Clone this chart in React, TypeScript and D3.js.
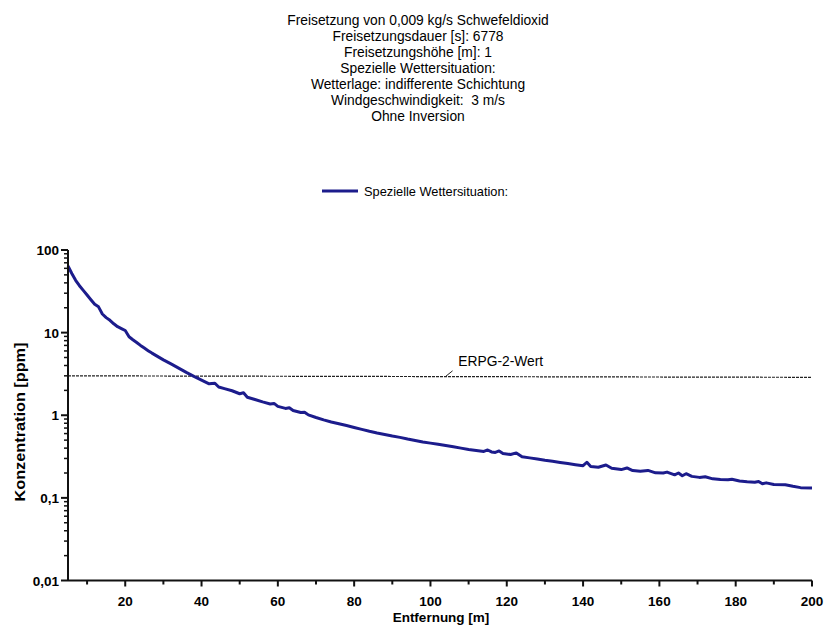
import React, { useRef, useEffect } from "react";
import * as d3 from "d3";

const titleLines = [
  "Freisetzung von 0,009 kg/s Schwefeldioxid",
  "Freisetzungsdauer [s]: 6778",
  "Freisetzungshöhe [m]: 1",
  "Spezielle Wettersituation:",
  "Wetterlage: indifferente Schichtung",
  "Windgeschwindigkeit:  3 m/s",
  "Ohne Inversion",
];

const seriesName = "Spezielle Wettersituation:";

// distance [m]
const distances = [
  5, 6, 7, 8, 9, 10, 11, 12, 13, 14, 15, 16, 17, 18, 19, 20, 21, 22, 23, 24,
  25, 26, 27, 28, 29, 30, 31, 32, 34, 36, 38, 40, 42, 43.5, 44.5, 46, 48, 50,
  51, 52, 54, 56, 58, 59, 60, 62, 63, 64, 66, 67, 68, 70, 72, 74, 76, 78, 80,
  82, 84, 86, 88, 90, 92, 94, 96, 98, 100, 102, 104, 106, 108, 110, 112, 114,
  115, 116, 117, 118, 119, 121, 122.5, 124, 126, 128, 130, 132, 134, 136, 138,
  140, 141, 142, 144, 146, 147.5, 150, 151.5, 153, 155, 157, 159, 161, 162,
  164, 165, 166, 167, 168.5, 170.5, 172, 174, 176, 178, 179, 181, 183, 185,
  186, 187, 188, 190, 193, 195, 197, 200,
];

// concentration [ppm]
const concentrations = [
  64, 52, 43, 37, 32.5, 28.5, 25, 22, 20.5, 16.8, 15.2, 14.1, 12.8, 11.8, 11.2,
  10.6, 8.9, 8.2, 7.6, 7.0, 6.5, 6.05, 5.65, 5.3, 4.98, 4.68, 4.42, 4.18, 3.72,
  3.3, 2.95, 2.66, 2.4, 2.44, 2.2, 2.1, 1.98, 1.82, 1.87, 1.65, 1.55, 1.45,
  1.37, 1.39, 1.28, 1.21, 1.23, 1.14, 1.08, 1.09, 1.01, 0.94, 0.88, 0.83,
  0.79, 0.75, 0.71, 0.675, 0.64, 0.61, 0.585, 0.56, 0.54, 0.515, 0.495, 0.475,
  0.46, 0.445, 0.43, 0.415, 0.4, 0.385, 0.375, 0.365, 0.38, 0.36, 0.355, 0.37,
  0.345, 0.335, 0.35, 0.315, 0.305, 0.295, 0.285, 0.277, 0.268, 0.26, 0.252,
  0.245, 0.27, 0.24, 0.235, 0.25, 0.228, 0.22, 0.23, 0.214, 0.21, 0.215, 0.201,
  0.2, 0.205, 0.19, 0.2, 0.185, 0.196, 0.182, 0.177, 0.18, 0.17, 0.167, 0.166,
  0.168, 0.16, 0.157, 0.155, 0.158, 0.148, 0.152, 0.145, 0.144, 0.138, 0.133,
  0.132,
];

const erpgValue = 3;
const erpgLabel = "ERPG-2-Wert";
const xTicks = [20, 40, 60, 80, 100, 120, 140, 160, 180, 200];
const xMinorTicks = [10, 30, 50, 70, 90, 110, 130, 150, 170, 190];
const yTicks = [0.01, 0.1, 1, 10, 100];
const yTickLabels = ["0,01", "0,1", "1", "10", "100"];

function App() {
  const svgRef = useRef<SVGSVGElement>(null);

  useEffect(() => {
    const svg = d3.select(svgRef.current);
    svg.selectAll("*").remove();

    const font = "'Liberation Sans', Arial, sans-serif";
    const x = d3.scaleLinear().domain([5, 200]).range([68, 812]);
    const y = d3.scaleLog().domain([0.01, 100]).range([580.5, 250]);

    // title block
    svg
      .append("g")
      .selectAll("text")
      .data(titleLines)
      .enter()
      .append("text")
      .attr("x", 418)
      .attr("y", (_, i) => 24.5 + i * 16.1)
      .attr("text-anchor", "middle")
      .style("font-family", font)
      .style("font-size", "13.8px")
      .style("white-space", "pre")
      .text((d) => d);

    // legend
    svg
      .append("line")
      .attr("x1", 322)
      .attr("x2", 358)
      .attr("y1", 191)
      .attr("y2", 191)
      .style("stroke", "#1c1c8c")
      .style("stroke-width", 3);
    svg
      .append("text")
      .attr("x", 364)
      .attr("y", 195.5)
      .style("font-family", font)
      .style("font-size", "12.8px")
      .text(seriesName);

    // ERPG line
    svg
      .append("line")
      .attr("x1", x(5))
      .attr("x2", x(200))
      .attr("y1", y(erpgValue))
      .attr("y2", y(erpgValue) + 1.5)
      .style("stroke", "#222")
      .style("stroke-width", 1.2)
      .style("stroke-dasharray", "3,1");
    svg
      .append("path")
      .attr("d", `M${x(104)},${y(erpgValue) + 0.5} L${x(105.8)},${y(erpgValue) - 5}`)
      .style("stroke", "#222")
      .style("stroke-width", 1)
      .style("fill", "none");
    svg
      .append("text")
      .attr("x", x(107.3))
      .attr("y", y(erpgValue) - 10)
      .style("font-family", font)
      .style("font-size", "13.8px")
      .text(erpgLabel);

    // data curve
    const data = distances.map((d, i) => ({ d, c: concentrations[i] }));
    const line = d3
      .line<{ d: number; c: number }>()
      .x((p) => x(p.d))
      .y((p) => y(p.c));
    svg
      .append("path")
      .datum(data)
      .attr("d", line)
      .style("fill", "none")
      .style("stroke", "#1c1c8c")
      .style("stroke-width", 3)
      .style("stroke-linejoin", "round");

    // axes
    const axisG = svg.append("g").style("stroke", "#111");
    axisG
      .append("line")
      .attr("x1", x(5))
      .attr("x2", x(200))
      .attr("y1", y(0.01))
      .attr("y2", y(0.01))
      .style("stroke-width", 2);
    axisG
      .append("line")
      .attr("x1", x(5))
      .attr("x2", x(5))
      .attr("y1", y(0.01))
      .attr("y2", y(100))
      .style("stroke-width", 2);

    axisG
      .selectAll(".xmaj")
      .data(xTicks)
      .enter()
      .append("line")
      .attr("x1", (d) => x(d))
      .attr("x2", (d) => x(d))
      .attr("y1", y(0.01))
      .attr("y2", y(0.01) + 6)
      .style("stroke-width", 2);
    axisG
      .selectAll(".xmin")
      .data(xMinorTicks)
      .enter()
      .append("line")
      .attr("x1", (d) => x(d))
      .attr("x2", (d) => x(d))
      .attr("y1", y(0.01))
      .attr("y2", y(0.01) + 4)
      .style("stroke-width", 2);

    const yMinor: number[] = [];
    [0.01, 0.1, 1, 10].forEach((dec) => {
      for (let k = 2; k <= 9; k++) yMinor.push(dec * k);
    });
    axisG
      .selectAll(".ymin")
      .data(yMinor)
      .enter()
      .append("line")
      .attr("x1", x(5) - 4)
      .attr("x2", x(5))
      .attr("y1", (d) => y(d))
      .attr("y2", (d) => y(d))
      .style("stroke-width", 1.5);
    axisG
      .selectAll(".ymaj")
      .data(yTicks)
      .enter()
      .append("line")
      .attr("x1", x(5) - 7)
      .attr("x2", x(5))
      .attr("y1", (d) => y(d))
      .attr("y2", (d) => y(d))
      .style("stroke-width", 2);

    svg
      .append("g")
      .selectAll("text")
      .data(xTicks)
      .enter()
      .append("text")
      .attr("x", (d) => x(d))
      .attr("y", 606)
      .attr("text-anchor", "middle")
      .style("font-family", font)
      .style("font-size", "13.5px")
      .style("font-weight", "bold")
      .text((d) => String(d));

    svg
      .append("g")
      .selectAll("text")
      .data(yTicks)
      .enter()
      .append("text")
      .attr("x", 59)
      .attr("y", (d) => y(d) + 5)
      .attr("text-anchor", "end")
      .style("font-family", font)
      .style("font-size", "13.5px")
      .style("font-weight", "bold")
      .text((_, i) => yTickLabels[i]);

    svg
      .append("text")
      .attr("x", 441)
      .attr("y", 621.5)
      .attr("text-anchor", "middle")
      .style("font-family", font)
      .style("font-size", "13.5px")
      .style("font-weight", "bold")
      .text("Entfernung [m]");

    svg
      .append("text")
      .attr("transform", "translate(25,422) rotate(-90)")
      .attr("text-anchor", "middle")
      .attr("textLength", 159)
      .attr("lengthAdjust", "spacingAndGlyphs")
      .style("font-family", font)
      .style("font-size", "14px")
      .style("font-weight", "bold")
      .text("Konzentration [ppm]");
  }, []);

  return (
    <svg
      ref={svgRef}
      width={824}
      height={625}
      style={{ position: "absolute", left: 0, top: 0, background: "#fff" }}
    />
  );
}

export default App;
